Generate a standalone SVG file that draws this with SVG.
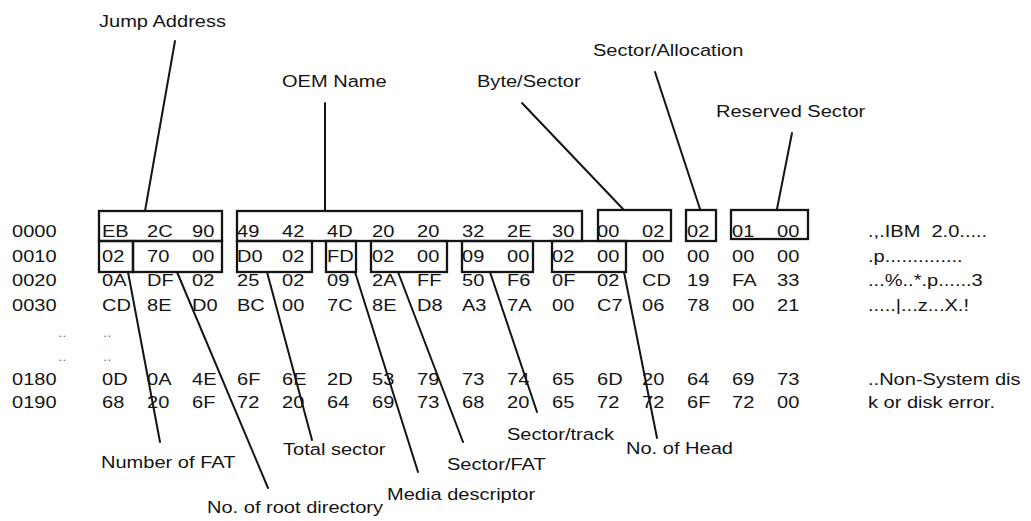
<svg xmlns="http://www.w3.org/2000/svg" width="1031" height="521" viewBox="0 0 1031 521">
<style>
text { font-family: "Liberation Sans", Arial, Helvetica, sans-serif; font-size: 17px; fill: #141414; transform-box: fill-box; transform-origin: 0 50%; transform: scaleX(1.18); }
.box { fill: none; stroke: #141414; stroke-width: 2.3; }
.ln { stroke: #141414; stroke-width: 2; fill: none; stroke-linecap: round; }
.dots { fill: #777; font-size: 13px; }
</style>
<rect width="1031" height="521" fill="#ffffff"/>

<g id="hexdump">
  <g id="row-0000">
    <text x="12" y="237">0000</text>
    <text x="102" y="237">EB</text><text x="147" y="237">2C</text><text x="192" y="237">90</text><text x="237" y="237">49</text>
    <text x="282" y="237">42</text><text x="327" y="237">4D</text><text x="372" y="237">20</text><text x="417" y="237">20</text>
    <text x="462" y="237">32</text><text x="507" y="237">2E</text><text x="552" y="237">30</text><text x="597" y="237">00</text>
    <text x="642" y="237">02</text><text x="687" y="237">02</text><text x="732" y="237">01</text><text x="777" y="237">00</text>
    <text x="868" y="237" xml:space="preserve">.,.IBM  2.0.....</text>
  </g>
  <g id="row-0010">
    <text x="12" y="262">0010</text>
    <text x="102" y="262">02</text><text x="147" y="262">70</text><text x="192" y="262">00</text><text x="237" y="262">D0</text>
    <text x="282" y="262">02</text><text x="327" y="262">FD</text><text x="372" y="262">02</text><text x="417" y="262">00</text>
    <text x="462" y="262">09</text><text x="507" y="262">00</text><text x="552" y="262">02</text><text x="597" y="262">00</text>
    <text x="642" y="262">00</text><text x="687" y="262">00</text><text x="732" y="262">00</text><text x="777" y="262">00</text>
    <text x="868" y="262">.p..............</text>
  </g>
  <g id="row-0020">
    <text x="12" y="286">0020</text>
    <text x="102" y="286">0A</text><text x="147" y="286">DF</text><text x="192" y="286">02</text><text x="237" y="286">25</text>
    <text x="282" y="286">02</text><text x="327" y="286">09</text><text x="372" y="286">2A</text><text x="417" y="286">FF</text>
    <text x="462" y="286">50</text><text x="507" y="286">F6</text><text x="552" y="286">0F</text><text x="597" y="286">02</text>
    <text x="642" y="286">CD</text><text x="687" y="286">19</text><text x="732" y="286">FA</text><text x="777" y="286">33</text>
    <text x="868" y="286">...%..*.p......3</text>
  </g>
  <g id="row-0030">
    <text x="12" y="311">0030</text>
    <text x="102" y="311">CD</text><text x="147" y="311">8E</text><text x="192" y="311">D0</text><text x="237" y="311">BC</text>
    <text x="282" y="311">00</text><text x="327" y="311">7C</text><text x="372" y="311">8E</text><text x="417" y="311">D8</text>
    <text x="462" y="311">A3</text><text x="507" y="311">7A</text><text x="552" y="311">00</text><text x="597" y="311">C7</text>
    <text x="642" y="311">06</text><text x="687" y="311">78</text><text x="732" y="311">00</text><text x="777" y="311">21</text>
    <text x="868" y="311">.....|...z...X.!</text>
  </g>
  <g id="row-ellipsis">
    <text class="dots" x="58" y="337">..</text><text class="dots" x="103" y="337">..</text>
    <text class="dots" x="58" y="361">..</text><text class="dots" x="103" y="361">..</text>
  </g>
  <g id="row-0180">
    <text x="12" y="385">0180</text>
    <text x="102" y="385">0D</text><text x="147" y="385">0A</text><text x="192" y="385">4E</text><text x="237" y="385">6F</text>
    <text x="282" y="385">6E</text><text x="327" y="385">2D</text><text x="372" y="385">53</text><text x="417" y="385">79</text>
    <text x="462" y="385">73</text><text x="507" y="385">74</text><text x="552" y="385">65</text><text x="597" y="385">6D</text>
    <text x="642" y="385">20</text><text x="687" y="385">64</text><text x="732" y="385">69</text><text x="777" y="385">73</text>
    <text x="868" y="385">..Non-System dis</text>
  </g>
  <g id="row-0190">
    <text x="12" y="408">0190</text>
    <text x="102" y="408">68</text><text x="147" y="408">20</text><text x="192" y="408">6F</text><text x="237" y="408">72</text>
    <text x="282" y="408">20</text><text x="327" y="408">64</text><text x="372" y="408">69</text><text x="417" y="408">73</text>
    <text x="462" y="408">68</text><text x="507" y="408">20</text><text x="552" y="408">65</text><text x="597" y="408">72</text>
    <text x="642" y="408">72</text><text x="687" y="408">6F</text><text x="732" y="408">72</text><text x="777" y="408">00</text>
    <text x="868" y="408">k or disk error.</text>
  </g>
</g>

<g id="jump-address"><rect class="box" x="99" y="211" width="123" height="30"/><text x="99" y="27">Jump Address</text></g>
<g id="oem-name"><rect class="box" x="237" y="211" width="345" height="30"/><text x="282" y="87">OEM Name</text></g>
<g id="byte-sector"><rect class="box" x="598" y="210" width="73" height="31"/><text x="477" y="87">Byte/Sector</text></g>
<g id="sector-allocation"><rect class="box" x="686" y="210" width="30" height="31"/><text x="593" y="56">Sector/Allocation</text></g>
<g id="reserved-sector"><rect class="box" x="731" y="210" width="77" height="29"/><text x="716" y="117">Reserved Sector</text></g>
<g id="number-of-fat"><rect class="box" x="99" y="241" width="34" height="31"/><text x="101" y="468">Number of FAT</text></g>
<g id="root-directory"><rect class="box" x="133" y="241" width="89" height="31"/><text x="207" y="513">No. of root directory</text></g>
<g id="total-sector"><rect class="box" x="237" y="241" width="75" height="31"/><text x="283" y="455">Total sector</text></g>
<g id="media-descriptor"><rect class="box" x="326" y="241" width="30" height="31"/><text x="387" y="500">Media descriptor</text></g>
<g id="sector-fat"><rect class="box" x="371" y="241" width="76" height="31"/><text x="447" y="470">Sector/FAT</text></g>
<g id="sector-track"><rect class="box" x="462" y="241" width="71" height="31"/><text x="507" y="440">Sector/track</text></g>
<g id="no-of-head"><rect class="box" x="552" y="241" width="74" height="31"/><text x="626" y="454">No. of Head</text></g>

<g id="connectors">
  <line class="ln" x1="175" y1="41" x2="145" y2="211"/>
  <line class="ln" x1="325" y1="103" x2="325" y2="211"/>
  <line class="ln" x1="522" y1="103" x2="623" y2="209"/>
  <line class="ln" x1="655" y1="72" x2="700" y2="209"/>
  <line class="ln" x1="792" y1="133" x2="777" y2="209"/>
  <line class="ln" x1="128" y1="272" x2="160" y2="442"/>
  <line class="ln" x1="177" y1="272" x2="268" y2="488"/>
  <line class="ln" x1="267" y1="272" x2="312" y2="440"/>
  <line class="ln" x1="355" y1="272" x2="418" y2="472"/>
  <line class="ln" x1="398" y1="272" x2="463" y2="442"/>
  <line class="ln" x1="490" y1="272" x2="537" y2="412"/>
  <line class="ln" x1="624" y1="272" x2="657" y2="438"/>
</g>
</svg>
